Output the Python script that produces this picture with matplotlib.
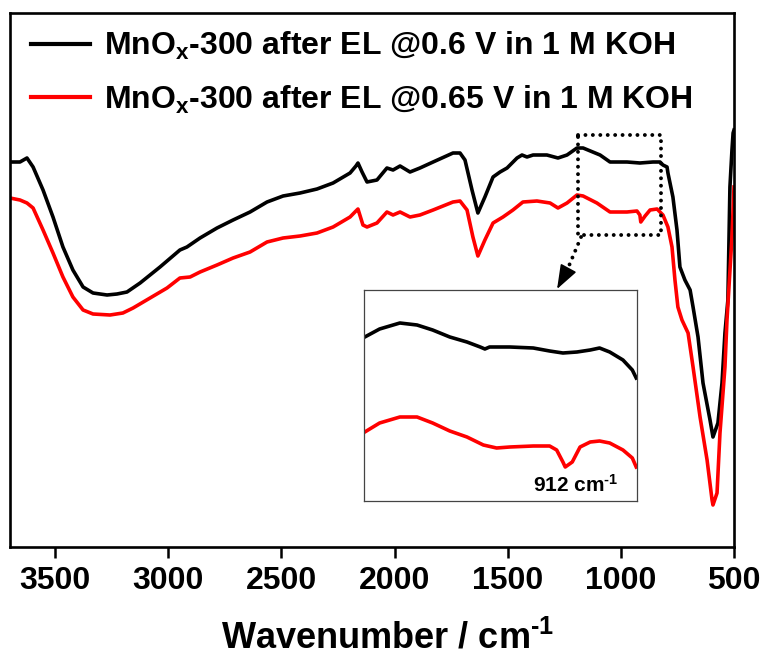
import matplotlib
matplotlib.use("Agg")
import matplotlib.pyplot as plt

plt.rcParams['font.family'] = ['Liberation Sans', 'DejaVu Sans']
plt.rcParams['font.weight'] = 'bold'
plt.rcParams['mathtext.fontset'] = 'custom'
plt.rcParams['mathtext.rm'] = 'Liberation Sans:bold'
plt.rcParams['mathtext.bf'] = 'Liberation Sans:bold'
plt.rcParams['mathtext.it'] = 'Liberation Sans:bold'
plt.rcParams['mathtext.default'] = 'bf'

# ---- main spectra (wavenumber / cm-1, transmittance a.u.) ----
wn_black = [3700, 3656, 3625, 3598, 3554, 3510, 3466, 3422, 3377, 3333, 3271, 3227, 3183, 3125,
            3037, 2949, 2918, 2860, 2785, 2714, 2639, 2564, 2493, 2418, 2343, 2272, 2197, 2171,
            2162, 2144, 2122, 2078, 2034, 2007, 1976, 1932, 1888, 1830, 1742, 1711, 1689, 1658,
            1632, 1601, 1565, 1534, 1503, 1459, 1437, 1415, 1388, 1327, 1278, 1238, 1194, 1167,
            1092, 1048, 973, 916, 858, 827, 814, 796, 792, 770, 752, 739, 717, 694, 681, 659,
            637, 606, 593, 571, 553, 540, 527, 518, 509, 504, 500]
t_black = [77.0, 77.0, 77.8, 76.0, 71.4, 66.0, 60.0, 55.4, 52.0, 50.8, 50.4, 50.6, 51.0, 52.8,
           56.0, 59.4, 60.0, 61.8, 63.8, 65.4, 67.0, 69.0, 70.2, 70.8, 71.6, 72.8, 74.8, 76.2,
           76.8, 75.0, 73.0, 73.4, 75.8, 75.4, 76.2, 75.0, 75.8, 77.0, 78.8, 78.8, 77.4, 71.4,
           66.8, 70.0, 74.0, 75.0, 75.8, 77.8, 78.4, 78.0, 78.4, 78.4, 77.8, 78.4, 79.8, 79.8,
           78.4, 77.0, 77.0, 76.8, 77.0, 77.0, 76.4, 76.0, 74.8, 70.0, 63.4, 56.0, 53.4, 51.4,
           48.0, 42.0, 32.8, 25.4, 22.0, 24.8, 32.8, 42.8, 49.4, 72.0, 79.4, 82.8, 83.4]

wn_red = [3700, 3656, 3625, 3598, 3554, 3510, 3466, 3422, 3377, 3333, 3258, 3201, 3156, 3081,
          3006, 2949, 2904, 2860, 2785, 2714, 2639, 2564, 2493, 2418, 2343, 2272, 2197, 2171,
          2162, 2140, 2122, 2078, 2034, 2007, 1976, 1932, 1888, 1830, 1742, 1711, 1680, 1654,
          1632, 1601, 1565, 1521, 1477, 1433, 1371, 1313, 1278, 1238, 1194, 1167, 1106, 1048,
          973, 929, 916, 912, 893, 871, 840, 814, 792, 774, 761, 748, 730, 703, 681, 650, 619,
          597, 593, 575, 562, 540, 531, 509, 500]
t_red = [69.8, 69.4, 68.8, 67.8, 63.4, 58.8, 54.0, 50.0, 47.4, 46.6, 46.4, 46.8, 47.8, 49.8,
         51.8, 53.8, 54.0, 55.0, 56.4, 57.8, 59.0, 61.0, 61.8, 62.2, 62.8, 64.0, 66.0, 67.2,
         67.6, 64.4, 64.0, 64.8, 67.0, 66.4, 67.0, 66.0, 66.4, 67.4, 69.0, 69.2, 67.4, 62.0,
         58.2, 61.4, 64.8, 66.0, 67.4, 69.0, 69.2, 68.8, 67.8, 68.8, 70.4, 70.2, 68.8, 67.0,
         67.0, 67.2, 66.4, 65.0, 66.2, 67.4, 67.6, 66.4, 64.0, 60.0, 53.4, 48.0, 45.4, 42.8,
         36.0, 26.0, 17.4, 9.4, 8.4, 10.8, 22.8, 36.0, 45.4, 62.0, 72.0]

# ---- inset (enlarged 1170-820 cm-1 region, a.u.) ----
wn_in_black = [1169, 1150, 1124, 1102, 1082, 1060, 1038, 1021, 1015, 1009, 983, 953, 932, 915,
               897, 880, 868, 855, 838, 826, 821]
v_in_black = [82, 86, 89, 88, 85.5, 82, 79.5, 77, 76, 77, 77, 76.5, 75, 74, 74.5, 75.5, 76.5,
              74.5, 70.5, 65.5, 61.5]
wn_in_red = [1169, 1150, 1124, 1102, 1082, 1060, 1038, 1017, 1000, 983, 953, 932, 923, 915, 912,
             903, 893, 880, 868, 855, 838, 826, 821]
v_in_red = [34.5, 39, 42, 42, 39, 35, 32, 28, 26.5, 27, 27.5, 27.5, 25.5, 19.5, 17, 19.5, 27,
            29.5, 30, 29, 25.5, 21.5, 17]

labels = [r'MnO$_{x}$-300 after EL @0.6 V in 1 M KOH',
          r'MnO$_{x}$-300 after EL @0.65 V in 1 M KOH']
xticks = [3500, 3000, 2500, 2000, 1500, 1000, 500]

W, H = 766, 658
fig = plt.figure(figsize=(W / 100, H / 100), dpi=100)
ax = fig.add_axes([10 / W, (H - 547) / H, 724 / W, 534 / H])

lw = 2.6
ax.plot(wn_black, t_black, color='black', lw=lw, solid_joinstyle='round', label=labels[0])
ax.plot(wn_red, t_red, color='#ff0000', lw=lw, solid_joinstyle='round', label=labels[1])
ax.set_xlim(3700, 500)
ax.set_ylim(0, 106.8)
ax.set_xticks(xticks)
ax.set_xticklabels([str(t) for t in xticks])
ax.set_yticks([])
ax.tick_params(axis='x', direction='out', length=8, width=1.8, labelsize=23, pad=6)
for sp in ax.spines.values():
    sp.set_linewidth(1.9)
ax.set_xlabel('Wavenumber / cm$^{\u2010 1}$', fontsize=26, fontweight='bold')
ax.xaxis.set_label_coords(0.522, -0.138)

leg = ax.legend(loc='upper left', bbox_to_anchor=(0.029, 0.9675), frameon=False,
                fontsize=23, handlelength=1.85, handletextpad=0.45, labelspacing=0.66,
                borderaxespad=0, borderpad=0)
for ln in leg.get_lines():
    ln.set_linewidth(3.0)

# dotted box marking the enlarged region
dot = (0, (0.01, 1.9))
bx = [1190, 823, 823, 1190, 1190]
by = [82.4, 82.4, 62.4, 62.4, 82.4]
ax.plot(bx, by, color='black', lw=2.8, linestyle=dot, dash_capstyle='round')
# dotted arrow towards the inset
ax.plot([1176, 1240], [62.0, 55.1], color='black', lw=2.8, linestyle=dot,
        dash_capstyle='round')
ax.annotate('', xy=(1282, 51.6), xytext=(1240, 55.1),
            arrowprops=dict(arrowstyle='-|>,head_length=1.5,head_width=0.55',
                            color='black', lw=1.2, shrinkA=0, shrinkB=0))

# inset
axi = fig.add_axes([364 / W, (H - 501) / H, 273 / W, 211 / H])
axi.plot(wn_in_black, v_in_black, color='black', lw=2.6, solid_joinstyle='round')
axi.plot(wn_in_red, v_in_red, color='#ff0000', lw=2.6, solid_joinstyle='round')
axi.set_xlim(1170, 820)
axi.set_ylim(0, 105.5)
axi.set_xticks([])
axi.set_yticks([])
for sp in axi.spines.values():
    sp.set_linewidth(0.9)
    sp.set_color('#444444')
axi.text(899, 8, '912 cm$^{\u2010 1}$', fontsize=15, ha='center', va='center')

fig.savefig('out.png', dpi=100)
